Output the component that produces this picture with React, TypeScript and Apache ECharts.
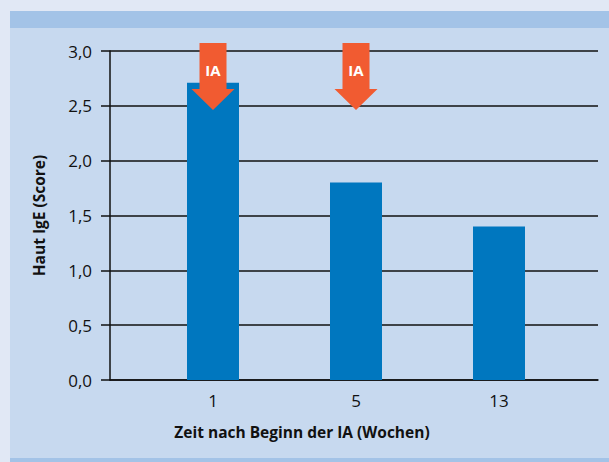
import React, { useEffect, useRef } from "react";
import * as echarts from "echarts";

const categories = ["1", "5", "13"];
const values = [2.71, 1.8, 1.4];
const yTicks = [0, 0.5, 1, 1.5, 2, 2.5, 3];
const arrowLabel = "IA";
const yTitle = "Haut IgE (Score)";
const xTitle = "Zeit nach Beginn der IA (Wochen)";

const FONT = "'Open Sans', 'Noto Sans', sans-serif";

export default function App() {
  const ref = useRef<HTMLDivElement>(null);
  useEffect(() => {
    if (!ref.current) return;
    const chart = echarts.init(ref.current, null, { renderer: "svg" });
    const arrowCenters = [213, 356];
    const arrows: any[] = [];
    arrowCenters.forEach((cx) => {
      arrows.push({
        type: "polygon",
        z: 100,
        shape: {
          points: [
            [cx - 13.5, 43],
            [cx + 13.5, 43],
            [cx + 13.5, 89],
            [cx + 21.5, 89],
            [cx, 110],
            [cx - 21.5, 89],
            [cx - 13.5, 89],
          ],
        },
        style: { fill: "#F15B31" },
      });
      arrows.push({
        type: "text",
        z: 101,
        x: cx,
        y: 70,
        style: {
          text: arrowLabel,
          fill: "#ffffff",
          font: `bold 15px ${FONT}`,
          align: "center",
          verticalAlign: "middle",
        },
      });
    });
    const fmt = (v: number) => v.toFixed(1).replace(".", ",");
    chart.setOption({
      animation: false,
      backgroundColor: "transparent",
      grid: [
        { left: 110, right: 11, top: 51, bottom: 82 },
        { left: 141.5, right: 38.5, top: 51, bottom: 82 },
      ],
      xAxis: [
        {
          gridIndex: 0,
          type: "category",
          data: [""],
          axisLine: { show: true, lineStyle: { color: "#111", width: 1.5 } },
          axisTick: { show: false },
          axisLabel: { show: false },
          splitLine: { show: false },
        },
        {
          gridIndex: 1,
          type: "category",
          data: categories,
          axisLine: { show: false },
          axisTick: { show: false },
          axisLabel: { color: "#111", fontSize: 17, fontFamily: FONT, margin: 12 },
          splitLine: { show: false },
        },
      ],
      yAxis: [
        {
          gridIndex: 0,
          type: "value",
          min: yTicks[0],
          max: yTicks[yTicks.length - 1],
          interval: 0.5,
          axisLine: { show: true, lineStyle: { color: "#111", width: 1.5 } },
          axisTick: { show: true, length: 9, lineStyle: { color: "#111", width: 1.5 } },
          axisLabel: { color: "#111", fontSize: 17, fontFamily: FONT, margin: 18, formatter: fmt },
          splitLine: { show: true, lineStyle: { color: "#111", width: 1.5 } },
          name: yTitle,
          nameLocation: "middle",
          nameGap: 63,
          nameTextStyle: { color: "#111", fontSize: 15.5, fontWeight: "bold", fontFamily: FONT },
        },
        {
          gridIndex: 1,
          type: "value",
          min: yTicks[0],
          max: yTicks[yTicks.length - 1],
          interval: 0.5,
          show: false,
          splitLine: { show: false },
        },
      ],
      series: [
        {
          type: "bar",
          xAxisIndex: 1,
          yAxisIndex: 1,
          data: values,
          barWidth: 52,
          itemStyle: { color: "#0077BF" },
          z: 5,
        },
      ],
      graphic: [
        ...arrows,
        {
          type: "text",
          x: 302,
          y: 432,
          style: {
            text: xTitle,
            fill: "#111",
            font: `bold 15.5px ${FONT}`,
            align: "center",
            verticalAlign: "middle",
          },
        },
      ],
    });
    return () => chart.dispose();
  }, []);

  return (
    <div
      style={{
        position: "fixed",
        left: 0,
        top: 0,
        width: 609,
        height: 462,
        background: "#E1E8F5",
        overflow: "hidden",
      }}
    >
      <div style={{ position: "absolute", left: 10, top: 11, width: 599, height: 451, background: "#C7D9EF" }} />
      <div style={{ position: "absolute", left: 10, top: 11, width: 599, height: 17, background: "#A3C3E7" }} />
      <div style={{ position: "absolute", left: 10, top: 458, width: 599, height: 4, background: "#A3C3E7" }} />
      <div ref={ref} style={{ position: "absolute", left: 0, top: 0, width: 609, height: 462 }} />
    </div>
  );
}
